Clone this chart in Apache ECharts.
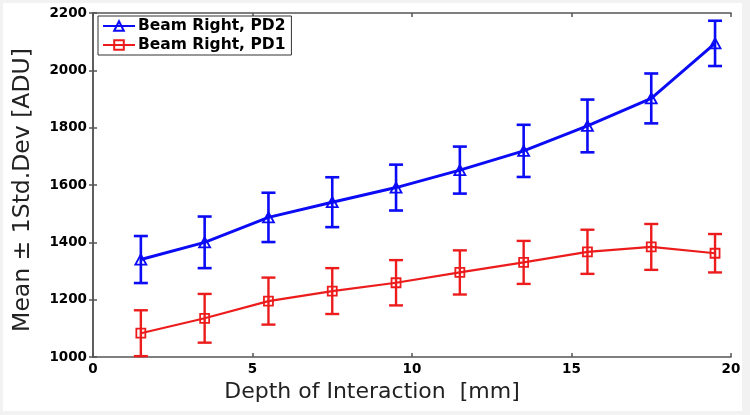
<!DOCTYPE html>
<html><head><meta charset="utf-8">
<script src="https://cdn.jsdelivr.net/npm/echarts@6/dist/echarts.min.js"></script>
<style>html,body{margin:0;padding:0;background:#f2f2f2}#c{width:750px;height:415px}</style>
</head><body><div id="c"></div>
<script>
const depth = [1.5, 3.5, 5.5, 7.5, 9.5, 11.5, 13.5, 15.5, 17.5, 19.5];
const pd2Mean = [1340, 1400, 1487, 1540, 1591, 1652, 1719, 1806, 1902, 2094];
const pd2Std  = [82, 90, 86, 87, 80, 82, 91, 92, 87, 79];
const pd1Mean = [1083, 1135, 1195, 1230, 1259, 1295, 1330, 1367, 1384, 1362];
const pd1Std  = [80, 85, 82, 80, 79, 77, 75, 77, 80, 67];
const seriesNames = ['Beam Right, PD2', 'Beam Right, PD1'];

const BLUE = '#0b0bf5', RED = '#ec1c1c';
const tickFont = {fontFamily: 'DejaVu Sans', fontWeight: 'bold', fontSize: 13.5, color: '#000', formatter: v => String(v)};

function errData(mean, sd) { return depth.map((x, i) => [x, mean[i] - sd[i], mean[i] + sd[i]]); }
function errRenderer(color, lw) {
  return function (params, api) {
    const x = api.value(0);
    const lo = api.coord([x, api.value(1)]);
    const hi = api.coord([x, api.value(2)]);
    const hw = 7;
    const st = {stroke: color, lineWidth: lw};
    return {type: 'group', children: [
      {type: 'line', shape: {x1: lo[0], y1: lo[1], x2: hi[0], y2: hi[1]}, style: st},
      {type: 'line', shape: {x1: lo[0] - hw, y1: lo[1], x2: lo[0] + hw, y2: lo[1]}, style: st},
      {type: 'line', shape: {x1: hi[0] - hw, y1: hi[1], x2: hi[0] + hw, y2: hi[1]}, style: st}
    ]};
  };
}

const axisLineStyle = {color: '#555', width: 1.5};
const chart = echarts.init(document.getElementById('c'));
chart.setOption({
  animation: false,
  backgroundColor: 'transparent',
  graphic: [{type: 'rect', z: -100, silent: true, shape: {x: 3, y: 3, width: 739, height: 408}, style: {fill: '#ffffff'}}],
  grid: {left: 93, right: 19, top: 13, bottom: 58, containLabel: false},
  legend: {
    data: seriesNames, orient: 'vertical', left: 98, top: 16,
    padding: [2, 6, 2, 4], itemGap: 3, itemWidth: 32, itemHeight: 12,
    backgroundColor: '#fff', borderColor: '#333', borderWidth: 1, borderRadius: 0,
    textStyle: {fontFamily: 'DejaVu Sans', fontWeight: 'bold', fontSize: 15.5, color: '#000', padding: [0, 0, 0, -2]}
  },
  xAxis: [
    {type: 'value', min: 0, max: 20, interval: 5, position: 'bottom',
     name: 'Depth of Interaction  [mm]', nameLocation: 'middle', nameGap: 24,
     nameTextStyle: {fontFamily: 'DejaVu Sans', fontSize: 22, color: '#222', padding: [0, 80, 0, 0]},
     axisLine: {show: true, lineStyle: axisLineStyle},
     axisTick: {show: true, inside: true, length: 4, lineStyle: axisLineStyle},
     axisLabel: Object.assign({margin: 5}, tickFont), splitLine: {show: false}},
    {type: 'value', min: 0, max: 20, interval: 5, position: 'top',
     axisLine: {show: true, lineStyle: axisLineStyle},
     axisTick: {show: true, inside: true, length: 4, lineStyle: axisLineStyle},
     axisLabel: {show: false}, splitLine: {show: false}}
  ],
  yAxis: [
    {type: 'value', min: 1000, max: 2200, interval: 200, position: 'left',
     name: 'Mean \u00b1 1Std.Dev [ADU]', nameLocation: 'middle', nameGap: 58,
     nameTextStyle: {fontFamily: 'DejaVu Sans', fontSize: 23.5, color: '#222', padding: [0, 10, 0, 0]},
     axisLine: {show: true, lineStyle: axisLineStyle},
     axisTick: {show: true, inside: true, length: 4, lineStyle: axisLineStyle},
     axisLabel: Object.assign({margin: 6}, tickFont), splitLine: {show: false}},
    {type: 'value', min: 1000, max: 2200, interval: 200, position: 'right',
     axisLine: {show: true, lineStyle: axisLineStyle},
     axisTick: {show: true, inside: true, length: 4, lineStyle: axisLineStyle},
     axisLabel: {show: false}, splitLine: {show: false}}
  ],
  series: [
    {name: seriesNames[0], type: 'line', data: depth.map((x, i) => [x, pd2Mean[i]]),
     color: BLUE, lineStyle: {color: BLUE, width: 3}, symbol: 'triangle', symbolSize: [11, 10],
     itemStyle: {color: 'transparent', borderColor: BLUE, borderWidth: 1.8}, z: 3},
    {name: seriesNames[1], type: 'line', data: depth.map((x, i) => [x, pd1Mean[i]]),
     color: RED, lineStyle: {color: RED, width: 2.2}, symbol: 'rect', symbolSize: 9,
     itemStyle: {color: 'transparent', borderColor: RED, borderWidth: 1.8}, z: 3},
    {type: 'custom', data: errData(pd2Mean, pd2Std), renderItem: errRenderer(BLUE, 2.6),
     encode: {x: 0, y: [1, 2]}, z: 2},
    {type: 'custom', data: errData(pd1Mean, pd1Std), renderItem: errRenderer(RED, 2.4),
     encode: {x: 0, y: [1, 2]}, z: 2}
  ]
});
</script></body></html>
